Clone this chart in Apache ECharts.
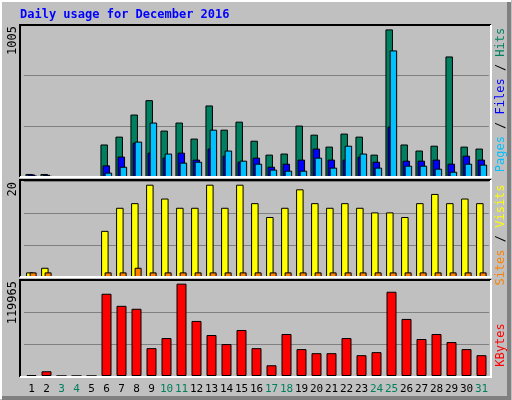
<!DOCTYPE html>
<html><head><meta charset="utf-8">
<script src="https://cdn.jsdelivr.net/npm/echarts@6/dist/echarts.min.js"></script>
<style>html,body{margin:0;padding:0;background:#c0c0c0}#c{width:512px;height:400px}</style>
</head><body><div id="c"></div>
<script>
const days = ['1','2','3','4','5','6','7','8','9','10','11','12','13','14','15','16','17','18','19','20','21','22','23','24','25','26','27','28','29','30','31'];
const weekend = ['3','4','10','11','17','18','24','25','31'];
const hits  = [20,20,0,0,0,215,267,413,508,307,360,254,473,313,366,240,148,155,340,280,201,287,267,148,976,215,175,207,797,201,188];
const files = [17,15,0,0,0,77,135,227,161,128,161,115,188,141,101,128,68,88,115,188,115,115,135,101,333,108,108,115,88,141,115];
const pages = [10,8,0,0,0,29,68,234,360,155,95,101,313,175,108,88,49,42,42,128,62,207,155,62,837,75,75,55,35,88,82];
const visits= [1,2,0,0,0,10,15,16,20,17,15,15,20,15,20,16,13,15,19,16,15,16,15,14,14,13,16,18,16,17,16];
const sites = [1,1,0,0,0,1,1,2,1,1,1,1,1,1,1,1,1,1,1,1,1,1,1,1,1,1,1,1,1,1,1];
const kbytes= [1000,5900,0,0,0,102800,87700,84000,34800,47400,115400,68800,51200,39900,57500,34800,13400,52500,33600,28500,28500,47400,26000,29800,105300,71300,46200,52500,42400,33600,26000];
const maxLabels = ['1005','20','119965'];
const axisMax = [1005, 20.8, 119965];

const ch = echarts.init(document.getElementById('c'), null, {renderer:'canvas'});
const FONT = '"DejaVu Sans Mono", monospace';
const bs = {borderColor:'#000', borderWidth:1};
function yax(i, max){ return {gridIndex:i, type:'value', min:0, max:max, interval:max/3,
  axisLabel:{show:false}, axisLine:{show:false}, axisTick:{show:false},
  splitLine:{show:true, lineStyle:{color:'#808080', width:1}}}; }
function xax(i, show){ return {gridIndex:i, type:'category', data:days, boundaryGap:true,
  axisLine:{show:false}, axisTick:{show:false},
  axisLabel:{show:show, interval:0, margin:8, fontFamily:FONT, fontSize:11,
    color:(v)=> weekend.includes(v)?'#00805c':'#000'}}; }
function frame(x1,y1,x2,y2){ return [
  {type:'polyline', shape:{points:[[x1,y2],[x1,y1],[x2,y1]]}, style:{stroke:'#000', fill:null, lineWidth:2}, z:10},
  {type:'polyline', shape:{points:[[x1,y2],[x2,y2],[x2,y1]]}, style:{stroke:'#fff', fill:null, lineWidth:2}, z:10}]; }
function rot(x,y,text,rich){ return {type:'text', x:x, y:y, rotation:Math.PI/2, z:11,
  style:{text:text, rich:rich, font:'12px '+FONT, fill:'#000', align:'center', verticalAlign:'middle'}}; }
function maxl(x,y,t){ return {type:'text', x:x, y:y, rotation:Math.PI/2, z:11,
  style:{text:t, font:'12px '+FONT, fill:'#000', align:'right', verticalAlign:'middle'}}; }

ch.setOption({
  animation:false,
  backgroundColor:'#c0c0c0',
  grid:[
    {left:23.8, width:465, top:25, height:152},
    {left:23.85, width:465, top:181, height:96},
    {left:24, width:465, top:280, height:96}
  ],
  xAxis:[xax(0,false), xax(1,false), xax(2,true)],
  yAxis:[yax(0,axisMax[0]), yax(1,axisMax[1]), yax(2,axisMax[2])],
  series:[
    {type:'bar', xAxisIndex:0, yAxisIndex:0, data:hits, barWidth:7.5, barGap:'-72%', itemStyle:Object.assign({color:'#008060'},bs)},
    {type:'bar', xAxisIndex:0, yAxisIndex:0, data:files, barWidth:7.5, barGap:'-72%', itemStyle:Object.assign({color:'#0000ff'},bs)},
    {type:'bar', xAxisIndex:0, yAxisIndex:0, data:pages, barWidth:7.5, barGap:'-72%', itemStyle:Object.assign({color:'#00c0ff'},bs)},
    {type:'bar', xAxisIndex:1, yAxisIndex:1, data:visits, barWidth:7.5, barGap:'-53%', itemStyle:Object.assign({color:'#ffff00'},bs)},
    {type:'bar', xAxisIndex:1, yAxisIndex:1, data:sites, barWidth:7, barGap:'-53%', itemStyle:Object.assign({color:'#ff8000'},bs)},
    {type:'bar', xAxisIndex:2, yAxisIndex:2, data:kbytes, barWidth:10, itemStyle:Object.assign({color:'#ff0000'},bs)}
  ],
  graphic:[
    {type:'polyline', shape:{points:[[1,399],[1,1],[511,1]]}, style:{stroke:'#fff', fill:null, lineWidth:2}},
    {type:'polyline', shape:{points:[[2,398],[509,398],[509,2]]}, style:{stroke:'#808080', fill:null, lineWidth:4}},
    {type:'text', x:20, y:15, style:{text:'Daily usage for December 2016', font:'bold 12px '+FONT, fill:'#0000ff', verticalAlign:'middle'}},
    ...frame(20,25,491,177), ...frame(20,180,491,277), ...frame(20,280,491,377),
    maxl(13,26,maxLabels[0]), maxl(13,182,maxLabels[1]), maxl(13,281,maxLabels[2]),
    rot(501,100,'{p|Pages}{s| / }{f|Files}{s| / }{h|Hits}', {p:{fill:'#00c0ff',font:'12px '+FONT}, s:{fill:'#000',font:'12px '+FONT}, f:{fill:'#0000ff',font:'12px '+FONT}, h:{fill:'#008060',font:'12px '+FONT}}),
    rot(501,235,'{a|Sites}{s| / }{b|Visits}', {a:{fill:'#ff8000',font:'12px '+FONT}, s:{fill:'#000',font:'12px '+FONT}, b:{fill:'#ffff00',font:'12px '+FONT}}),
    rot(501,345,'{k|KBytes}', {k:{fill:'#ff0000',font:'12px '+FONT}})
  ]
});
</script></body></html>
